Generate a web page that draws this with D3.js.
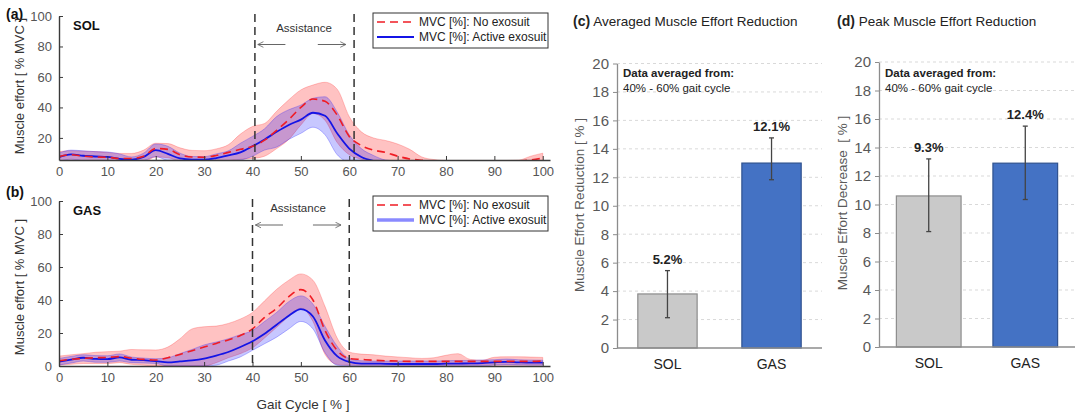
<!DOCTYPE html>
<html>
<head>
<meta charset="utf-8">
<script src="https://cdn.jsdelivr.net/npm/d3@7"></script>
<style>
  body { margin: 0; background: #fff; }
  svg { font-family: Arial, 'Liberation Sans', sans-serif; display: block; }
</style>
</head>
<body>
<div id="chart"></div>
<script>

// ----------------------------------
// DATA
// ----------------------------------

const gait = [0, 2.5, 5, 7.5, 10, 12.5, 15, 17.5, 20, 22.5, 25, 27.5, 30, 32.5, 35, 37.5, 40, 42.5, 45, 47.5,
	50, 52.5, 55, 57.5, 60, 62.5, 65, 67.5, 70, 72.5, 75, 77.5, 80, 82.5, 85, 87.5, 90, 92.5, 95, 97.5, 100];

// SOL - no exosuit (mean, upper, lower)
const solNoMean = [7.7, 9, 8, 7.5, 7.3, 6.5, 6.5, 8, 13, 12.5, 9, 7.5, 7.3, 8.5, 10.5, 12.5, 14.5, 18.5, 25, 32,
	40, 45.5, 44, 35, 21, 15, 12, 10.5, 8, 6.2, 5.3, 4.8, 4.6, 4.5, 4.5, 4.5, 4.5, 4.6, 4.8, 5.5, 6.7];
const solNoHi = [11, 11.6, 11.3, 11, 10.5, 9.8, 9.8, 12, 16.5, 16.3, 13.5, 11.8, 11.6, 12.8, 15.5, 22.5, 27.5, 29.5, 37.5, 45,
	51.5, 54.7, 56.5, 52, 34, 24, 20, 18.3, 16, 12.5, 7.5, 5.8, 5.2, 5.2, 5.2, 5.2, 5.2, 5.2, 5.4, 8, 10];
const solNoLo = [4, 5, 4.5, 4, 4, 3.5, 3.5, 4, 7.5, 7, 4.5, 3.5, 3.5, 3.5, 5, 6, 6.5, 8, 13, 19,
	28.5, 36, 31.5, 17, 9, 6, 3.5, 3.5, 3.5, 3.5, 3.5, 3.5, 3.5, 3.5, 3.5, 3.5, 3.5, 3.5, 3.5, 3.5, 4];

// SOL - active exosuit
const solExoMean = [7.3, 9.2, 8.3, 7.8, 7.5, 6.3, 5.8, 7.5, 12, 9.5, 6.5, 5.8, 5.8, 6.8, 8.5, 10.5, 14.5, 19, 24, 28.5,
	32, 36.5, 34.5, 23, 13, 7.5, 5, 4, 3.8, 3.6, 3.5, 3.5, 3.5, 3.5, 3.5, 3.5, 3.5, 3.5, 3.5, 3.6, 4];
const solExoHi = [10, 12, 11.5, 11, 10.8, 9.5, 7.5, 10, 16, 14.5, 10, 7.8, 7.7, 9.5, 11.5, 16.5, 21, 26, 34, 38.5,
	41.5, 46, 47, 37, 22, 13, 8.5, 5.5, 4.8, 4.6, 4.5, 4.5, 4.5, 4.5, 4.5, 4.5, 4.5, 4.5, 4.5, 4.8, 5.2];
const solExoLo = [4.5, 6, 5, 4.5, 4.3, 4, 4, 5, 7.7, 5, 4, 4, 4, 4, 5, 5.5, 8, 12, 14, 19,
	23, 27, 22, 9, 4, 3, 3, 3, 3, 3, 3, 3, 3, 3, 3, 3, 3, 3, 3, 3, 3];

// GAS - no exosuit
const gasNoMean = [3.2, 4, 4.6, 5, 5.2, 5.7, 4.8, 4, 3.6, 5, 7, 9.3, 11.5, 13.7, 15.8, 18.5, 22.5, 29.5, 35, 42,
	46.3, 40, 21.5, 9.5, 4.5, 4, 3.5, 3.2, 3, 2.8, 2.8, 2.8, 2.8, 2.8, 2.8, 2.8, 2.8, 2.8, 2.8, 2.8, 3];
const gasNoHi = [6, 6.8, 7.5, 8.3, 8.7, 9, 10, 9.8, 9.7, 11.5, 16.5, 22.5, 23.8, 24.2, 25.8, 28.5, 32.5, 39.5, 46.5, 52,
	55.8, 52, 36, 17, 8.5, 7.2, 6.8, 6, 5.5, 5, 4.6, 5, 6.5, 7.5, 4, 3.5, 5.3, 5.6, 5.6, 5.4, 5.2];
const gasNoLo = [0.5, 1, 1.5, 1.5, 1.5, 2, 1, 0.5, 0, 0, 0, 0, 0, 2, 5, 7.5, 11, 17, 23.5, 30,
	35, 27, 7, 1, 0.5, 0.5, 0.5, 0.5, 0.5, 0.5, 0.5, 0.5, 0.5, 0.5, 0.5, 0.5, 0.5, 0.5, 0.5, 0.5, 0.5];

// GAS - active exosuit
const gasExoMean = [2.6, 3.8, 5, 4.3, 4.2, 5.2, 3.8, 3.6, 3, 2.2, 2.8, 3.4, 4.5, 6.3, 8.5, 11.5, 15, 19.5, 25, 30.5,
	34.5, 30, 15.5, 6, 2.5, 1.5, 1.5, 1.3, 1.2, 1.2, 1.2, 1.2, 1.4, 1.5, 1.6, 1.8, 2.2, 2.5, 2.2, 2, 2];
const gasExoHi = [4.6, 5.8, 6.8, 6.3, 6.2, 7.3, 5.4, 4.8, 4.4, 5, 7.5, 10, 12.8, 14.5, 16.5, 19, 21.5, 27, 32.5, 39,
	42.5, 37.5, 24, 12, 4.5, 3.2, 3, 3, 3, 3, 3, 3, 3.2, 3.3, 3.4, 3.6, 3.8, 4.2, 3.8, 3.6, 3.5];
const gasExoLo = [0.6, 1.8, 3, 2.3, 2.2, 3, 2, 1.8, 1.5, 0, 0, 0, 0, 0.5, 3, 5.5, 9.5, 13.5, 17.5, 22.5,
	27, 22.5, 8, 0.5, 0, 0, 0, 0, 0, 0, 0, 0, 0, 0, 0, 0, 0.6, 0.8, 0.6, 0.5, 0.5];

const gaitTicks = [0, 10, 20, 30, 40, 50, 60, 70, 80, 90, 100];
const solTicks = [20, 40, 60, 80, 100];
const gasTicks = [0, 20, 40, 60, 80, 100];
const solAssist = [40.5, 61];
const gasAssist = [40, 60];
const legendLabels = ['MVC [%]: No exosuit', 'MVC [%]: Active exosuit'];

// bar charts
const muscles = ['SOL', 'GAS'];
const avgReduction = [3.8, 13.0];
const avgErrLo = [2.13, 11.83];
const avgErrHi = [5.44, 14.77];
const avgLabels = ['5.2%', '12.1%'];
const peakReduction = [10.6, 12.9];
const peakErrLo = [8.1, 10.35];
const peakErrHi = [13.2, 15.5];
const peakLabels = ['9.3%', '12.4%'];
const barTicks = [0, 2, 4, 6, 8, 10, 12, 14, 16, 18, 20];
const barColors = { SOL: '#c9c9c9', GAS: '#4472c4' };
const barStrokes = { SOL: '#8c8c8c', GAS: '#2f528f' };


// ----------------------------------
// SVG
// ----------------------------------

const svg = d3.select('#chart')
	.append('svg')
	.attr('width', 1079)
	.attr('height', 415);

svg.append('rect').attr('width', 1079).attr('height', 415).attr('fill', '#fff');

const xScale = d3.scaleLinear()
	.domain([0, 101.5])
	.range([59, 550]);


// ----------------------------------
// TRACE PANELS (a) (b)
// ----------------------------------

function tracePanel(o) {
	const yScale = d3.scaleLinear().domain(o.yDomain).range(o.yRange);
	const top = o.yRange[1], bottom = o.yRange[0];
	const g = svg.append('g');

	const rows = gait.map((d, i) => ({
		g: d,
		nm: o.noMean[i], nh: o.noHi[i], nl: o.noLo[i],
		em: o.exoMean[i], eh: o.exoHi[i], el: o.exoLo[i]
	}));

	svg.append('clipPath').attr('id', 'clip-' + o.name)
		.append('rect')
		.attr('x', xScale.range()[0])
		.attr('y', top)
		.attr('width', xScale.range()[1] - xScale.range()[0])
		.attr('height', bottom - top);

	const plot = g.append('g').attr('clip-path', `url(#clip-${o.name})`);

	const band = (lo, hi) => d3.area()
		.x(d => xScale(d.g))
		.y0(d => yScale(d[lo]))
		.y1(d => yScale(d[hi]))
		.curve(d3.curveMonotoneX);

	const line = key => d3.line()
		.x(d => xScale(d.g))
		.y(d => yScale(d[key]))
		.curve(d3.curveMonotoneX);

	// shaded bands
	plot.append('path').datum(rows)
		.attr('d', band('nl', 'nh'))
		.attr('fill', 'rgba(255,0,0,0.24)')
		.attr('stroke', 'rgba(255,0,0,0.22)')
		.attr('stroke-width', 1);

	plot.append('path').datum(rows)
		.attr('d', band('el', 'eh'))
		.attr('fill', 'rgba(0,0,255,0.22)')
		.attr('stroke', 'rgba(0,0,255,0.25)')
		.attr('stroke-width', 1);

	// mean lines
	plot.append('path').datum(rows)
		.attr('d', line('em'))
		.attr('fill', 'none')
		.attr('stroke', '#1414e6')
		.attr('stroke-width', 1.8);

	plot.append('path').datum(rows)
		.attr('d', line('nm'))
		.attr('fill', 'none')
		.attr('stroke', '#f01c24')
		.attr('stroke-width', 1.6)
		.attr('stroke-dasharray', '8,5');

	// axes
	const yAxis = g.append('g')
		.attr('transform', `translate(${xScale.range()[0]},0)`)
		.call(d3.axisLeft(yScale).tickValues(o.yTicks).tickSizeInner(-4).tickSizeOuter(0).tickPadding(7));

	const xAxis = g.append('g')
		.attr('transform', `translate(0,${bottom})`)
		.call(d3.axisBottom(xScale).tickValues(gaitTicks).tickSizeInner(-4).tickSizeOuter(0).tickPadding(7));

	[yAxis, xAxis].forEach(a => {
		a.select('.domain').attr('stroke', '#3a3a3a').attr('stroke-width', 1.4);
		a.selectAll('.tick line').attr('stroke', '#3a3a3a');
		a.selectAll('.tick text').attr('fill', '#555').style('font-size', '13px');
	});

	// assistance window
	o.assist.forEach(v => {
		g.append('line')
			.attr('x1', xScale(v)).attr('x2', xScale(v))
			.attr('y1', top - 2).attr('y2', bottom)
			.attr('stroke', '#333')
			.attr('stroke-width', 1.5)
			.attr('stroke-dasharray', '8,5');
	});

	const ay = o.arrowY;
	const arrow = (from, to) => {
		g.append('line')
			.attr('x1', xScale(from)).attr('x2', xScale(to))
			.attr('y1', ay).attr('y2', ay)
			.attr('stroke', '#666').attr('stroke-width', 1)
			.attr('marker-end', 'url(#arrowhead)');
	};
	arrow(o.assist[0] + 6.3, o.assist[0] + 0.6);
	arrow(o.assist[1] - 7.5, o.assist[1] - 1.7);

	g.append('text')
		.text('Assistance')
		.attr('x', o.assistTextX)
		.attr('y', ay - 13)
		.attr('text-anchor', 'middle')
		.attr('fill', '#333')
		.style('font-size', '11.5px');

	// labels
	g.append('text')
		.text(o.letter)
		.attr('x', 6).attr('y', o.letterY)
		.attr('fill', '#111')
		.style('font-size', '14px').style('font-weight', 'bold');

	g.append('text')
		.text(o.name.toUpperCase())
		.attr('x', 73).attr('y', top + 14)
		.attr('fill', '#111')
		.style('font-size', '13px').style('font-weight', 'bold');

	g.append('text')
		.text('Muscle effort [ % MVC ]')
		.attr('transform', `translate(24,${o.titleY}) rotate(-90)`)
		.attr('text-anchor', 'middle')
		.attr('fill', '#333')
		.style('font-size', '13px');

	// legend
	const lg = g.append('g').attr('transform', `translate(373,${o.legendY})`);
	lg.append('rect')
		.attr('width', 175).attr('height', 35)
		.attr('fill', '#fff').attr('stroke', '#333').attr('stroke-width', 1);
	lg.append('line')
		.attr('x1', 4).attr('x2', 41).attr('y1', 9).attr('y2', 9)
		.attr('stroke', '#f01c24').attr('stroke-width', 1.6).attr('stroke-dasharray', '8,5');
	lg.append('line')
		.attr('x1', 4).attr('x2', 41).attr('y1', 24).attr('y2', 24)
		.attr('stroke', o.legendBlue).attr('stroke-width', o.legendBlueW);
	legendLabels.forEach((t, i) => {
		lg.append('text')
			.text(t)
			.attr('x', 46).attr('y', 13 + i * 14.5)
			.attr('fill', '#222')
			.style('font-size', '12px');
	});
}

svg.append('defs').append('marker')
	.attr('id', 'arrowhead')
	.attr('viewBox', '0 0 10 10')
	.attr('refX', 9).attr('refY', 5)
	.attr('markerWidth', 7).attr('markerHeight', 7)
	.attr('orient', 'auto')
	.append('path')
	.attr('d', 'M1,1 L9,5 L1,9')
	.attr('fill', 'none')
	.attr('stroke', '#666')
	.attr('stroke-width', 1.2);

tracePanel({
	name: 'sol', letter: '(a)', letterY: 19,
	yDomain: [5.5, 100], yRange: [160, 16], yTicks: solTicks,
	noMean: solNoMean, noHi: solNoHi, noLo: solNoLo,
	exoMean: solExoMean, exoHi: solExoHi, exoLo: solExoLo,
	assist: solAssist, arrowY: 44.5, assistTextX: 304,
	titleY: 86, legendY: 13, legendBlue: '#1414e6', legendBlueW: 1.8
});

tracePanel({
	name: 'gas', letter: '(b)', letterY: 197,
	yDomain: [0, 100], yRange: [366, 201], yTicks: gasTicks,
	noMean: gasNoMean, noHi: gasNoHi, noLo: gasNoLo,
	exoMean: gasExoMean, exoHi: gasExoHi, exoLo: gasExoLo,
	assist: gasAssist, arrowY: 225, assistTextX: 298,
	titleY: 287, legendY: 196, legendBlue: 'rgba(60,60,255,0.6)', legendBlueW: 3.5
});

svg.append('text')
	.text('Gait Cycle [ % ]')
	.attr('x', 303).attr('y', 409)
	.attr('text-anchor', 'middle')
	.attr('fill', '#333')
	.style('font-size', '13.5px');


// ----------------------------------
// BAR PANELS (c) (d)
// ----------------------------------

function barPanel(o) {
	const g = svg.append('g');
	const xBand = d3.scaleBand()
		.domain(muscles)
		.range(o.xRange)
		.paddingInner(o.padIn)
		.paddingOuter(o.padOut);
	const yScale = d3.scaleLinear().domain([0, 20]).range(o.yRange);
	const left = o.xRange[0], right = o.xRange[1];

	// grid
	g.selectAll('.grid')
		.data(barTicks.slice(1))
		.join('line')
		.attr('x1', left).attr('x2', right)
		.attr('y1', d => yScale(d)).attr('y2', d => yScale(d))
		.attr('stroke', '#d9d9d9')
		.attr('stroke-dasharray', '3,3');

	// bars
	g.selectAll('.bar')
		.data(muscles)
		.join('rect')
		.attr('x', d => xBand(d))
		.attr('width', xBand.bandwidth())
		.attr('y', (d, i) => yScale(o.values[i]))
		.attr('height', (d, i) => yScale(0) - yScale(o.values[i]))
		.attr('fill', d => barColors[d])
		.attr('stroke', d => barStrokes[d])
		.attr('stroke-width', 1.2);

	// error bars
	muscles.forEach((m, i) => {
		const cx = xBand(m) + xBand.bandwidth() / 2;
		g.append('line')
			.attr('x1', cx).attr('x2', cx)
			.attr('y1', yScale(o.errLo[i])).attr('y2', yScale(o.errHi[i]))
			.attr('stroke', '#444').attr('stroke-width', 1.3);
		[o.errLo[i], o.errHi[i]].forEach(v => {
			g.append('line')
				.attr('x1', cx - 2.5).attr('x2', cx + 2.5)
				.attr('y1', yScale(v)).attr('y2', yScale(v))
				.attr('stroke', '#444').attr('stroke-width', 1.3);
		});
		g.append('text')
			.text(o.labels[i])
			.attr('x', cx)
			.attr('y', yScale(o.errHi[i]) - 7)
			.attr('text-anchor', 'middle')
			.attr('fill', '#222')
			.style('font-size', '13px').style('font-weight', 'bold');
		g.append('text')
			.text(m)
			.attr('x', cx)
			.attr('y', yScale(0) + 21)
			.attr('text-anchor', 'middle')
			.attr('fill', '#222')
			.style('font-size', '14px');
	});

	// axes
	const yAxis = g.append('g')
		.attr('transform', `translate(${left},0)`)
		.call(d3.axisLeft(yScale).tickValues(barTicks).tickSizeInner(4).tickSizeOuter(0).tickPadding(4));
	yAxis.select('.domain').attr('stroke', '#8c8c8c').attr('stroke-width', 1.3);
	yAxis.selectAll('.tick line').attr('stroke', '#8c8c8c');
	yAxis.selectAll('.tick text').attr('fill', '#595959').style('font-size', '15px');

	g.append('line')
		.attr('x1', left).attr('x2', right)
		.attr('y1', yScale(0)).attr('y2', yScale(0))
		.attr('stroke', '#8c8c8c').attr('stroke-width', 1.3);

	// titles
	const title = g.append('text')
		.attr('x', o.titleX).attr('y', 26)
		.attr('fill', '#222');
	title.append('tspan').text(o.letter).style('font-size', '14px').style('font-weight', 'bold');
	title.append('tspan').text(' ' + o.title).style('font-size', '13.5px');

	g.append('text')
		.text(o.yTitle)
		.attr('transform', `translate(${o.yTitleX},${o.yTitleY}) rotate(-90)`)
		.attr('text-anchor', 'middle')
		.attr('fill', '#595959')
		.style('font-size', '13.5px')
		.style('white-space', 'pre');

	const note = g.append('text').attr('fill', '#222').style('font-size', '11.5px');
	note.append('tspan').text('Data averaged from:')
		.attr('x', left + 6).attr('y', 77).style('font-weight', 'bold');
	note.append('tspan').text('40% - 60% gait cycle')
		.attr('x', left + 6).attr('y', 92);
}

barPanel({
	letter: '(c)', title: 'Averaged Muscle Effort Reduction', titleX: 573,
	xRange: [617, 822], yRange: [348, 63.5], padIn: 0.43, padOut: 0.2,
	values: avgReduction, errLo: avgErrLo, errHi: avgErrHi, labels: avgLabels,
	yTitle: 'Muscle Effort Reduction [ % ]', yTitleX: 584, yTitleY: 205
});

barPanel({
	letter: '(d)', title: 'Peak Muscle Effort Reduction', titleX: 837,
	xRange: [879, 1075], yRange: [347, 62], padIn: 0.33, padOut: 0.18,
	values: peakReduction, errLo: peakErrLo, errHi: peakErrHi, labels: peakLabels,
	yTitle: 'Muscle Effort Decrease  [ % ]', yTitleX: 847, yTitleY: 203
});

</script>
</body>
</html>
